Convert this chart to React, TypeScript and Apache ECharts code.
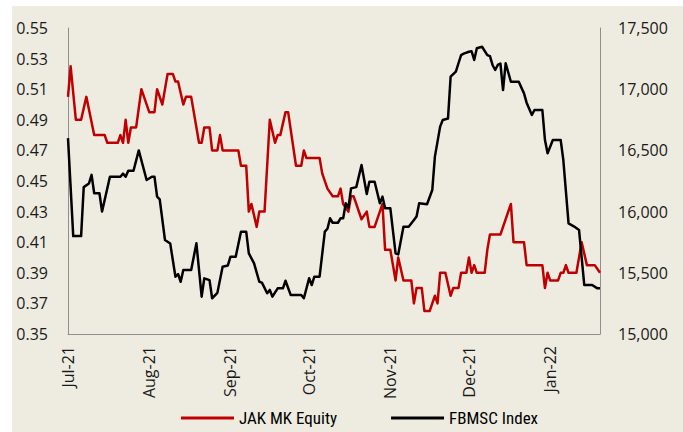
import React, { useEffect, useRef } from "react";
import * as echarts from "echarts";

const jakDates = [
  "2021-07-01", "2021-07-02", "2021-07-04", "2021-07-06", "2021-07-08", "2021-07-11", "2021-07-15", "2021-07-16",
  "2021-07-20", "2021-07-21", "2021-07-22", "2021-07-23", "2021-07-24", "2021-07-25", "2021-07-27", "2021-07-29",
  "2021-08-01", "2021-08-03", "2021-08-04", "2021-08-06", "2021-08-08", "2021-08-10", "2021-08-11", "2021-08-12",
  "2021-08-14", "2021-08-15", "2021-08-17", "2021-08-20", "2021-08-21", "2021-08-22", "2021-08-24", "2021-08-25",
  "2021-08-27", "2021-08-28", "2021-08-29", "2021-09-04", "2021-09-05", "2021-09-07", "2021-09-08", "2021-09-09",
  "2021-09-11", "2021-09-12", "2021-09-14", "2021-09-16", "2021-09-18", "2021-09-19", "2021-09-20", "2021-09-22",
  "2021-09-23", "2021-09-26", "2021-09-28", "2021-09-29", "2021-09-30", "2021-10-05", "2021-10-06", "2021-10-08",
  "2021-10-10", "2021-10-12", "2021-10-13", "2021-10-14", "2021-10-16", "2021-10-17", "2021-10-18", "2021-10-21",
  "2021-10-23", "2021-10-24", "2021-10-26", "2021-10-29", "2021-10-30", "2021-11-01", "2021-11-03", "2021-11-04",
  "2021-11-06", "2021-11-09", "2021-11-10", "2021-11-11", "2021-11-13", "2021-11-14", "2021-11-16", "2021-11-18",
  "2021-11-19", "2021-11-20", "2021-11-22", "2021-11-24", "2021-11-25", "2021-11-27", "2021-11-28", "2021-11-30",
  "2021-12-01", "2021-12-02", "2021-12-03", "2021-12-04", "2021-12-07", "2021-12-08", "2021-12-09", "2021-12-13",
  "2021-12-15", "2021-12-17", "2021-12-18", "2021-12-22", "2021-12-23", "2021-12-29", "2021-12-30", "2021-12-31",
  "2022-01-01", "2022-01-04", "2022-01-05", "2022-01-06", "2022-01-07", "2022-01-08", "2022-01-11", "2022-01-13",
  "2022-01-15", "2022-01-18", "2022-01-20",
];
const jakValues = [
  0.505, 0.525, 0.49, 0.49, 0.505, 0.48, 0.48, 0.475,
  0.475, 0.48, 0.475, 0.49, 0.475, 0.485, 0.485, 0.51,
  0.495, 0.495, 0.51, 0.5, 0.52, 0.52, 0.515, 0.515,
  0.5, 0.505, 0.505, 0.475, 0.475, 0.485, 0.485, 0.47,
  0.47, 0.48, 0.47, 0.47, 0.46, 0.46, 0.43, 0.435,
  0.42, 0.43, 0.43, 0.49, 0.475, 0.48, 0.48, 0.495,
  0.495, 0.46, 0.46, 0.47, 0.465, 0.465, 0.455, 0.445,
  0.44, 0.44, 0.445, 0.435, 0.43, 0.44, 0.44, 0.425,
  0.43, 0.42, 0.42, 0.435, 0.405, 0.405, 0.385, 0.4,
  0.385, 0.385, 0.37, 0.38, 0.38, 0.365, 0.365, 0.375,
  0.37, 0.39, 0.39, 0.375, 0.38, 0.38, 0.39, 0.39,
  0.4, 0.39, 0.395, 0.39, 0.39, 0.405, 0.415, 0.415,
  0.425, 0.435, 0.41, 0.41, 0.395, 0.395, 0.38, 0.39,
  0.385, 0.385, 0.39, 0.39, 0.395, 0.39, 0.39, 0.41,
  0.395, 0.395, 0.39,
];

const fbmDates = [
  "2021-07-01", "2021-07-03", "2021-07-06", "2021-07-07", "2021-07-09", "2021-07-10", "2021-07-11", "2021-07-13",
  "2021-07-14", "2021-07-17", "2021-07-21", "2021-07-22", "2021-07-23", "2021-07-24", "2021-07-26", "2021-07-28",
  "2021-07-31", "2021-08-02", "2021-08-03", "2021-08-04", "2021-08-05", "2021-08-07", "2021-08-09", "2021-08-11",
  "2021-08-12", "2021-08-13", "2021-08-14", "2021-08-17", "2021-08-19", "2021-08-21", "2021-08-22", "2021-08-24",
  "2021-08-25", "2021-08-27", "2021-08-29", "2021-08-31", "2021-09-01", "2021-09-03", "2021-09-05", "2021-09-07",
  "2021-09-08", "2021-09-10", "2021-09-12", "2021-09-13", "2021-09-15", "2021-09-16", "2021-09-17", "2021-09-19",
  "2021-09-21", "2021-09-22", "2021-09-24", "2021-09-28", "2021-09-29", "2021-10-01", "2021-10-02", "2021-10-03",
  "2021-10-05", "2021-10-07", "2021-10-08", "2021-10-09", "2021-10-10", "2021-10-12", "2021-10-13", "2021-10-14",
  "2021-10-15", "2021-10-16", "2021-10-17", "2021-10-19", "2021-10-21", "2021-10-23", "2021-10-24", "2021-10-26",
  "2021-10-28", "2021-10-29", "2021-10-30", "2021-11-01", "2021-11-03", "2021-11-04", "2021-11-06", "2021-11-08",
  "2021-11-10", "2021-11-11", "2021-11-12", "2021-11-15", "2021-11-17", "2021-11-18", "2021-11-20", "2021-11-21",
  "2021-11-23", "2021-11-24", "2021-11-26", "2021-11-27", "2021-11-28", "2021-11-29", "2021-12-01", "2021-12-02",
  "2021-12-03", "2021-12-04", "2021-12-06", "2021-12-08", "2021-12-09", "2021-12-10", "2021-12-11", "2021-12-12",
  "2021-12-13", "2021-12-14", "2021-12-15", "2021-12-17", "2021-12-20", "2021-12-22", "2021-12-23", "2021-12-25",
  "2021-12-26", "2021-12-29", "2021-12-30", "2021-12-31", "2022-01-02", "2022-01-05", "2022-01-06", "2022-01-08",
  "2022-01-10", "2022-01-12", "2022-01-14", "2022-01-17", "2022-01-19", "2022-01-20",
];
const fbmValues = [
  16600, 15800, 15800, 16200, 16230, 16300, 16150, 16150,
  16000, 16285, 16285, 16310, 16285, 16334, 16334, 16500,
  16258, 16285, 16285, 16122, 16100, 15768, 15740, 15468,
  15490, 15427, 15523, 15523, 15741, 15305, 15455, 15440,
  15292, 15336, 15550, 15560, 15632, 15632, 15836, 15836,
  15659, 15577, 15427, 15420, 15333, 15360, 15305, 15373,
  15373, 15435, 15318, 15318, 15292, 15455, 15400, 15468,
  15468, 15836, 15860, 15945, 15909, 15909, 15945, 15945,
  16068, 16030, 16190, 16200, 16381, 16144, 16244, 16244,
  16068, 16122, 16027, 16027, 15659, 15650, 15877, 15877,
  15931, 15960, 16068, 16060, 16176, 16449, 16694, 16748,
  16760, 17102, 17143, 17212, 17279, 17290, 17306, 17310,
  17239, 17334, 17347, 17279, 17270, 17198, 17157, 17198,
  17210, 16993, 17212, 17061, 17061, 16966, 16890, 16789,
  16830, 16830, 16585, 16476, 16585, 16585, 16422, 15904,
  15880, 15850, 15400, 15400, 15373, 15373,
];

const monthTicks = ["2021-07-01", "2021-08-01", "2021-09-01", "2021-10-01", "2021-11-01", "2021-12-01", "2022-01-01"];
const monthNames = ["Jan", "Feb", "Mar", "Apr", "May", "Jun", "Jul", "Aug", "Sep", "Oct", "Nov", "Dec"];
const leftTicks = [0.35, 0.37, 0.39, 0.41, 0.43, 0.45, 0.47, 0.49, 0.51, 0.53, 0.55];
const rightTicks = [15000, 15500, 16000, 16500, 17000, 17500];
const seriesNames = ["JAK MK Equity", "FBMSC Index"];

const toTime = (s: string) => {
  const [y, m, d] = s.split("-").map(Number);
  return new Date(y, m - 1, d).getTime();
};

export default function App() {
  const ref = useRef<HTMLDivElement>(null);
  useEffect(() => {
    if (!ref.current) return;
    const chart = echarts.init(ref.current, undefined, { renderer: "svg" });
    const labelFont = "'Open Sans', 'Noto Sans', sans-serif";
    const axisLine = { show: true, lineStyle: { color: "#8f8f8f", width: 1 } };
    chart.setOption({
      animation: false,
      backgroundColor: "#EEECE1",
      grid: { left: 56, top: 22, right: 83, bottom: 98, outerBoundsMode: "none" },
      legend: {
        data: seriesNames,
        left: 169,
        top: 403,
        padding: 0,
        icon: "rect",
        itemWidth: 53,
        itemHeight: 3,
        itemGap: 54,
        textStyle: {
          fontFamily: "'Liberation Sans Narrow', 'Arial Narrow', 'Roboto Condensed', 'Liberation Sans', sans-serif",
          fontSize: 17,
          color: "#000",
          lineHeight: 18,
        },
      },
      xAxis: {
        type: "value",
        min: toTime("2021-07-01"),
        max: toTime("2022-01-20"),
        axisLine,
        axisTick: { show: false },
        splitLine: { show: false },
        axisLabel: {
          customValues: monthTicks.map(toTime),
          rotate: 90,
          margin: 12,
          fontFamily: labelFont,
          fontSize: 16,
          color: "#1a1a1a",
          formatter: (v: number) => {
            const d = new Date(v);
            return monthNames[d.getMonth()] + "-" + String(d.getFullYear()).slice(2);
          },
        },
      },
      yAxis: [
        {
          type: "value",
          min: 0.35,
          max: 0.55,
          position: "left",
          axisLine,
          axisTick: { show: false },
          splitLine: { show: false },
          axisLabel: {
            customValues: leftTicks,
            margin: 20,
            fontFamily: labelFont,
            fontSize: 16,
            color: "#1a1a1a",
            formatter: (v: number) => v.toFixed(2),
          },
        },
        {
          type: "value",
          min: 15000,
          max: 17500,
          position: "right",
          axisLine,
          axisTick: { show: false },
          splitLine: { show: false },
          axisLabel: {
            customValues: rightTicks,
            margin: 18,
            fontFamily: labelFont,
            fontSize: 16,
            color: "#1a1a1a",
            formatter: (v: number) => v.toLocaleString("en-US"),
          },
        },
      ],
      series: [
        {
          name: seriesNames[0],
          type: "line",
          yAxisIndex: 0,
          showSymbol: false,
          symbol: "none",
          data: jakDates.map((d, i) => [toTime(d), jakValues[i]]),
          lineStyle: { color: "#C00000", width: 2.5, join: "round" },
          itemStyle: { color: "#C00000" },
        },
        {
          name: seriesNames[1],
          type: "line",
          yAxisIndex: 1,
          showSymbol: false,
          symbol: "none",
          data: fbmDates.map((d, i) => [toTime(d), fbmValues[i]]),
          lineStyle: { color: "#000000", width: 2.5, join: "round" },
          itemStyle: { color: "#000000" },
        },
      ],
    });
    return () => chart.dispose();
  }, []);
  return (
    <div style={{ position: "fixed", left: 0, top: 0, width: 683, height: 432, background: "#fff" }}>
      <div ref={ref} style={{ position: "absolute", left: 12, top: 6, width: 671, height: 426 }} />
    </div>
  );
}
